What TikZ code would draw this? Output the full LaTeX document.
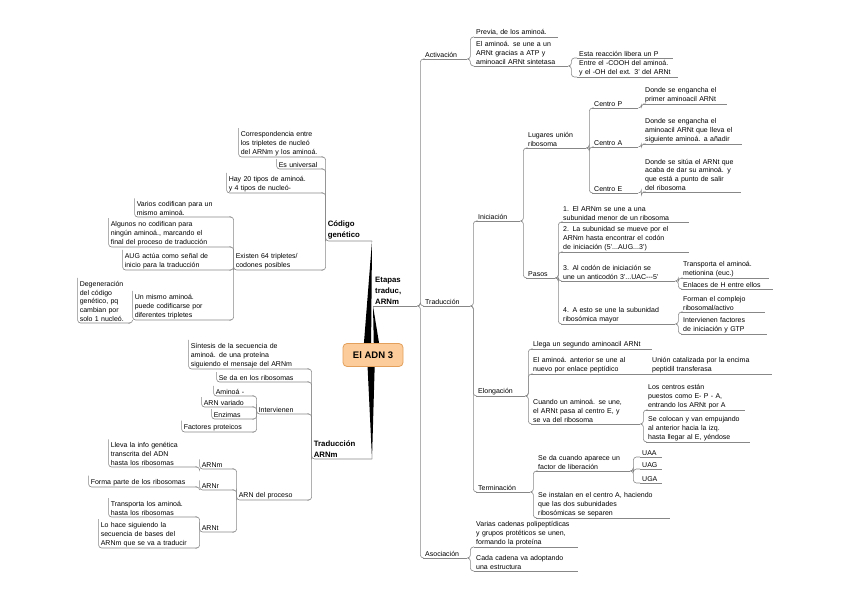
\documentclass[tikz,border=0pt]{standalone}
\usepackage{fontspec}
\setmainfont{Liberation Sans}
\usepackage{tikz}
\usetikzlibrary{positioning,calc,backgrounds}
\definecolor{linegray}{RGB}{135,135,135}
\definecolor{adnfill}{RGB}{252,204,154}
\definecolor{adnline}{RGB}{226,160,92}

\tikzset{
    uline/.style={draw=linegray, line width=0.6pt},
    link/.style={draw=linegray, line width=0.6pt, rounded corners=3pt},
    txt/.style={font=\fontsize{7}{8.8}\selectfont, align=left, inner xsep=2pt, inner ysep=1.2pt},
    tr/.style={txt, anchor=south west,
        append after command={(\tikzlastnode.south west) edge[uline] (\tikzlastnode.south east)}},
    tl/.style={txt, anchor=south east,
        append after command={\pgfextra{\draw[link] ([yshift=2pt]\tikzlastnode.north west)
            -- (\tikzlastnode.south west) -- (\tikzlastnode.south east);}}},
    mainr/.style={tr, font=\fontsize{7.8}{11.2}\selectfont\bfseries},
    mainl/.style={tl, font=\fontsize{7.8}{11.2}\selectfont\bfseries},
    tw/.style={text width=#1pt}
}

\begin{document}
\begin{tikzpicture}[x=1pt, y=-1pt]
    \useasboundingbox (0,0) rectangle (848,599);

    % Central topic
    \node[draw=adnline, fill=adnfill, line width=0.8pt, rounded corners=4pt, minimum width=60pt,
        minimum height=23pt, font=\fontsize{9.5}{11}\selectfont\bfseries] (adn) at (373,355) {El ADN 3};

    % Main branches
    \node[mainl, tw=42] (cod) at (372,241) {Código\\genético};
    \node[mainr, tw=40] (etp) at (373,306) {Etapas\\traduc,\\ARNm};
    \node[mainl, tw=56] (trm) at (372,459) {Traducción\\ARNm};

    % Spikes from the central topic
    \begin{scope}[on background layer]
        \fill (cod.south east) -- ($(adn.center)+(-10,0)$) -- ($(adn.center)+(-2,0)$) -- cycle;
        \fill (etp.south west) -- ($(adn.center)+(1,0)$) -- ($(adn.center)+(8,0)$) -- cycle;
        \fill (trm.south east) -- ($(adn.center)+(-6,0)$) -- ($(adn.center)+(2,0)$) -- cycle;
    \end{scope}

    % Etapas: Activacion / Traduccion / Asociacion
    \node[tr, tw=40] (act) at (423,59) {Activación};
    \node[tr, tw=43] (tra) at (423,306) {Traducción};
    \node[tr, tw=40] (aso) at (423,558) {Asociación};
    \foreach \n in {act,tra,aso}
        \draw[link] (etp.south east) -- ++(3,0) |- (\n.south west);

    % Activacion
    \node[tr, tw=80] (prev) at (474,37) {Previa, de los aminoá.};
    \node[tr, tw=90] (uneat) at (474,66) {El aminoá. se une a un\\ARNt gracias a ATP y\\aminoacil ARNt sintetasa};
    \node[tr, tw=92] (libp) at (577,58) {Esta reacción libera un P};
    \node[tr, tw=97] (cooh) at (577,77) {Entre el -COOH del aminoá.\\y el -OH del ext. 3' del ARNt};
    \foreach \n in {prev,uneat}
        \draw[link] (act.south east) -- ++(3,0) |- (\n.south west);
    \foreach \n in {libp,cooh}
        \draw[link] (uneat.south east) -- ++(3,0) |- (\n.south west);

    % Traduccion
    \node[tr, tw=40] (ini) at (476,221) {Iniciación};
    \node[tr, tw=45] (elo) at (476,396) {Elongación};
    \node[tr, tw=50] (ter) at (476,492) {Terminación};
    \foreach \n in {ini,elo,ter}
        \draw[link] (tra.south east) -- ++(3,0) |- (\n.south west);

    % Iniciacion
    \node[tr, tw=56] (lug) at (526,148) {Lugares unión\\ribosoma};
    \node[tr, tw=25] (pas) at (526,278) {Pasos};
    \foreach \n in {lug,pas}
        \draw[link] (ini.south east) -- ++(3,0) |- (\n.south west);

    \node[tr, tw=42] (cp) at (592,108) {Centro P};
    \node[tr, tw=42] (ca) at (592,147) {Centro A};
    \node[tr, tw=42] (ce) at (592,193) {Centro E};
    \foreach \n in {cp,ca,ce}
        \draw[link] (lug.south east) -- ++(3,0) |- (\n.south west);
    \node[tr, tw=80] (dp) at (643,104) {Donde se engancha el\\primer aminoacil ARNt};
    \node[tr, tw=95] (da) at (643,144) {Donde se engancha el\\aminoacil ARNt que lleva el\\siguiente aminoá. a añadir};
    \node[tr, tw=94] (de) at (643,192) {Donde se sitúa el ARNt que\\acaba de dar su aminoá. y\\que está a punto de salir\\del ribosoma};
    \draw[link] (cp.south east) -- ++(3,0) |- (dp.south west);
    \draw[link] (ca.south east) -- ++(3,0) |- (da.south west);
    \draw[link] (ce.south east) -- ++(3,0) |- (de.south west);

    \node[tr, tw=124] (p1) at (561,222) {1. El ARNm se une a una\\subunidad menor de un ribosoma};
    \node[tr, tw=124] (p2) at (561,252) {2. La subunidad se mueve por el\\ARNm hasta encontrar el codón\\de iniciación (5'...AUG...3')};
    \node[tr, tw=110] (p3) at (561,281) {3. Al codón de iniciación se\\une un anticodón 3'...UAC{-}{-}{-}5'};
    \node[tr, tw=110] (p4) at (561,324) {4. A esto se une la subunidad\\ribosómica mayor};
    \foreach \n in {p1,p2,p3,p4}
        \draw[link] (pas.south east) -- ++(3,0) |- (\n.south west);
    \node[tr, tw=84] (met) at (681,278) {Transporta el aminoá.\\metionina (euc.)};
    \node[tr, tw=88] (enh) at (681,289) {Enlaces de H entre ellos};
    \node[tr, tw=80] (com) at (681,312) {Forman el complejo\\ribosomal/activo};
    \node[tr, tw=82] (gtp) at (681,334) {Intervienen factores\\de iniciación y GTP};
    \foreach \n in {met,enh}
        \draw[link] (p3.south east) -- ++(3,0) |- (\n.south west);
    \foreach \n in {com,gtp}
        \draw[link] (p4.south east) -- ++(3,0) |- (\n.south west);

    % Elongacion
    \node[tr, tw=117] (lle) at (531,349) {Llega un segundo aminoacil ARNt};
    \node[tr, tw=110] (ant) at (531,374) {El aminoá. anterior se une al\\nuevo por enlace peptídico};
    \node[tr, tw=105] (cua) at (531,424) {Cuando un aminoá. se une,\\el ARNt pasa al centro E, y\\se va del ribosoma};
    \foreach \n in {lle,ant,cua}
        \draw[link] (elo.south east) -- ++(3,0) |- (\n.south west);
    \node[tr, tw=118] (uni) at (650,374) {Unión catalizada por la encima\\peptidil transferasa};
    \draw[link] (ant.south east) -- (uni.south west);
    \node[tr, tw=95] (cen) at (646,410) {Los centros están\\puestos como E- P - A,\\entrando los ARNt por A};
    \node[tr, tw=100] (emp) at (646,442) {Se colocan y van empujando\\al anterior hacia la izq.\\hasta llegar al E, yéndose};
    \foreach \n in {cen,emp}
        \draw[link] (cua.south east) -- ++(3,0) |- (\n.south west);

    % Terminacion
    \node[tr, tw=90] (fac) at (536,471) {Se da cuando aparece un\\factor de liberación};
    \node[tr, tw=130] (ins) at (536,518) {Se instalan en el centro A, haciendo\\que las dos subunidades\\ribosómicas se separen};
    \foreach \n in {fac,ins}
        \draw[link] (ter.south east) -- ++(3,0) |- (\n.south west);
    \node[tr, tw=18] (uaa) at (640,457) {UAA};
    \node[tr, tw=18] (uag) at (640,469) {UAG};
    \node[tr, tw=18] (uga) at (640,483) {UGA};
    \foreach \n in {uaa,uag,uga}
        \draw[link] (fac.south east) -- ++(3,0) |- (\n.south west);

    % Asociacion
    \node[tr, tw=100] (cad) at (474,547) {Varias cadenas polipeptídicas\\y grupos protéticos se unen,\\formando la proteína};
    \node[tr, tw=100] (est) at (474,571) {Cada cadena va adoptando\\una estructura};
    \foreach \n in {cad,est}
        \draw[link] (aso.south east) -- ++(3,0) |- (\n.south west);

    % Codigo genetico
    \node[tl, tw=80] (cor) at (323,157) {Correspondencia entre\\los tripletes de nucleó\\del ARNm y los aminoá.};
    \node[tl, tw=42] (univ) at (323,169) {Es universal};
    \node[tl, tw=92] (hay) at (323,193) {Hay 20 tipos de aminoá.\\y 4 tipos de nucleó-};
    \node[tl, tw=85] (exi) at (323,270) {Existen 64 tripletes/\\codones posibles};
    \foreach \n in {cor,univ,hay,exi}
        \draw[link] (cod.south west) |- (\n.south east);
    \node[tl, tw=92] (var) at (231,217) {Varios codifican para un\\mismo aminoá.};
    \node[tl, tw=118] (alg) at (231,247) {Algunos no codifican para\\ningún aminoá., marcando el\\final del proceso de traducción};
    \node[tl, tw=104] (aug) at (231,270) {AUG actúa como señal de\\inicio para la traducción};
    \node[tl, tw=94] (mis) at (231,320) {Un mismo aminoá.\\puede codificarse por\\diferentes tripletes};
    \foreach \n in {var,alg,aug,mis}
        \draw[link] (exi.south west) |- (\n.south east);
    \node[tl, tw=48] (deg) at (130,323) {Degeneración\\del código\\genético, pq\\cambian por\\solo 1 nucleó.};
    \draw[link] (mis.south west) |- (deg.south east);

    % Traduccion ARNm
    \node[tl, tw=116] (sin) at (309,369) {Síntesis de la secuencia de\\aminoá. de una proteína\\siguiendo el mensaje del ARNm};
    \node[tl, tw=88] (rib) at (309,382) {Se da en los ribosomas};
    \node[tl, tw=48] (intv) at (309,414) {Intervienen};
    \node[tl, tw=68] (proc) at (309,500) {ARN del proceso};
    \foreach \n in {sin,rib,intv,proc}
        \draw[link] (trm.south west) |- (\n.south east);
    \node[tl, tw=36] (ami) at (254,396) {Aminoá -};
    \node[tl, tw=48] (arv) at (254,407) {ARN variado};
    \node[tl, tw=38] (enz) at (254,419) {Enzimas};
    \node[tl, tw=68] (fpr) at (254,432) {Factores proteicos};
    \foreach \n in {ami,arv,enz,fpr}
        \draw[link] (intv.south west) |- (\n.south east);
    \node[tl, tw=30] (arnm) at (234,469) {ARNm};
    \node[tl, tw=30] (arnr) at (234,490) {ARNr};
    \node[tl, tw=30] (arnt) at (234,532) {ARNt};
    \foreach \n in {arnm,arnr,arnt}
        \draw[link] (proc.south west) |- (\n.south east);
    \node[tl, tw=84] (lle2) at (197,467) {Lleva la info genética\\transcrita del ADN\\hasta los ribosomas};
    \node[tl, tw=104] (fpa) at (197,487) {Forma parte de los ribosomas};
    \node[tl, tw=84] (tla) at (197,517) {Transporta los aminoá.\\hasta los ribosomas};
    \node[tl, tw=94] (sig) at (197,548) {Lo hace siguiendo la\\secuencia de bases del\\ARNm que se va a traducir};
    \draw[link] (arnm.south west) |- (lle2.south east);
    \draw[link] (arnr.south west) |- (fpa.south east);
    \foreach \n in {tla,sig}
        \draw[link] (arnt.south west) |- (\n.south east);

\end{tikzpicture}
\end{document}
